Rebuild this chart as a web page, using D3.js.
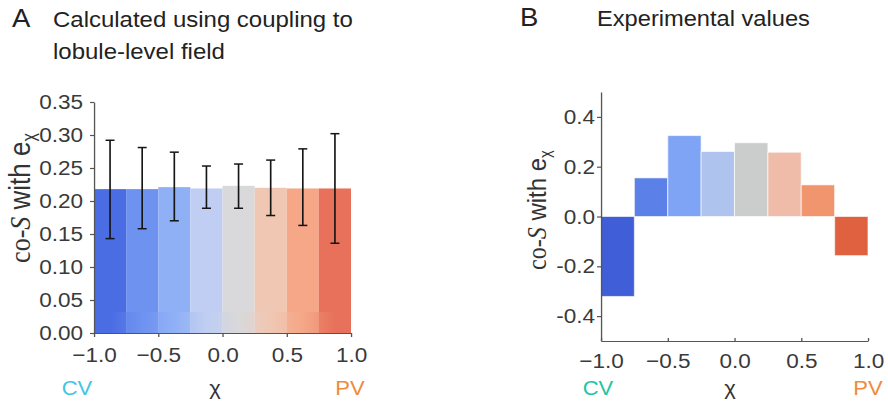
<!DOCTYPE html>
<html>
<head>
<meta charset="utf-8">
<script src="https://cdn.jsdelivr.net/npm/d3@7"></script>
<style>
  html, body { margin: 0; padding: 0; background: #fff; }
  svg { display: block; }
</style>
</head>
<body>
<svg id="fig" width="888" height="403"></svg>
<script>
// ---- data ----
const binEdges = [-1, -0.75, -0.5, -0.25, 0, 0.25, 0.5, 0.75, 1];

// Panel A: calculated co-S with lobule-level field (mean and error range)
const calcValues = [0.218, 0.218, 0.221, 0.219, 0.223, 0.220, 0.219, 0.219];
const calcUpper  = [0.292, 0.281, 0.274, 0.253, 0.256, 0.262, 0.279, 0.302];
const calcLower  = [0.143, 0.158, 0.170, 0.189, 0.189, 0.178, 0.163, 0.136];
const calcColors = ["#4b6de4", "#6e92f0", "#90b0f6", "#bfcef2", "#d9d8da", "#f0c7b3", "#f5a787", "#e7715a"];

// Panel B: experimental values
const expValues = [-0.321, 0.155, 0.325, 0.261, 0.296, 0.258, 0.127, -0.157];
const expColors = ["#3f5ed8", "#5b80e8", "#80a4f5", "#aec3ee", "#cacdcb", "#efbcaa", "#f0956d", "#e0613f"];

const yTicksA = [0, 0.05, 0.10, 0.15, 0.20, 0.25, 0.30, 0.35];
const yTicksB = [-0.4, -0.2, 0.0, 0.2, 0.4];
const xTicks  = [-1, -0.5, 0, 0.5, 1];

// ---- layout ----
// the whole figure is drawn slightly widened horizontally
const SX = 1.1;
const px = v => v / SX;
const SANS = "'Liberation Sans', Arial, sans-serif";
const SERIF = "'Liberation Serif', 'Times New Roman', serif";

const svg = d3.select("#fig");
const root = svg.append("g")
  .attr("transform", `scale(${SX},1)`)
  .attr("font-family", SANS)
  .attr("fill", "#333");

const fmtX = d3.format(".1f");

function styleAxis(g) {
  g.attr("font-family", SANS).attr("font-size", 20.5);
  g.selectAll("path.domain").attr("stroke", "#555").attr("stroke-width", 1.2);
  g.selectAll(".tick line").attr("stroke", "#555").attr("stroke-width", 1.2);
  g.selectAll(".tick text").attr("fill", "#3a3a3a");
}

function yLabel(g, cx, cy, size) {
  const t = g.append("text")
    .attr("transform", `translate(${cx},${cy}) rotate(-90)`)
    .attr("text-anchor", "middle")
    .attr("font-size", size)
    .attr("fill", "#333");
  t.append("tspan").text("co-").attr("font-family", SERIF);
  t.append("tspan").text("S").attr("font-family", SERIF).attr("font-style", "italic");
  t.append("tspan").text(" with e");
  t.append("tspan").text("χ").attr("font-size", size * 0.62).attr("dy", size * 0.18);
}

function bottomLabels(g, xs, y, cvColor) {
  g.append("text").attr("x", xs[0]).attr("y", y).attr("text-anchor", "middle")
    .attr("font-size", 20).attr("fill", cvColor).text("CV");
  g.append("text").attr("x", xs[1]).attr("y", y).attr("text-anchor", "middle")
    .attr("font-size", 20).attr("fill", "#333").text("χ");
  g.append("text").attr("x", xs[2]).attr("y", y).attr("text-anchor", "middle")
    .attr("font-size", 20).attr("fill", "#f08a3c").text("PV");
}

// ================= Panel A =================
{
  const g = root.append("g");
  const x = d3.scaleLinear().domain([-1, 1]).range([px(94), px(351)]);
  const y = d3.scaleLinear().domain([0, 0.35]).range([333, 102]);
  const bins = calcValues.map((v, i) => ({
    x0: binEdges[i], x1: binEdges[i + 1], v, hi: calcUpper[i], lo: calcLower[i], c: calcColors[i]
  }));

  g.append("text").attr("x", px(12)).attr("y", 27).attr("font-size", 25).attr("fill", "#222").text("A");
  g.append("text").attr("x", px(53)).attr("y", 27).attr("font-size", 21.8).attr("fill", "#222")
    .text("Calculated using coupling to");
  g.append("text").attr("x", px(53)).attr("y", 59).attr("font-size", 21.8).attr("fill", "#222")
    .text("lobule-level field");

  g.selectAll("rect.bar").data(bins).join("rect")
    .attr("class", "bar")
    .attr("x", d => x(d.x0))
    .attr("width", d => x(d.x1) - x(d.x0))
    .attr("y", d => y(d.v))
    .attr("height", d => y(0) - y(d.v))
    .attr("fill", d => d.c);

  // continuous colour strip along the base of the bars
  const grad = svg.append("defs").append("linearGradient").attr("id", "stripA")
    .attr("x1", "0%").attr("x2", "100%").attr("y1", "0%").attr("y2", "0%");
  calcColors.forEach((c, i) => {
    grad.append("stop").attr("offset", ((i + 0.5) / calcColors.length * 100) + "%").attr("stop-color", c);
  });
  g.append("rect")
    .attr("x", x(-1)).attr("width", x(1) - x(-1))
    .attr("y", 312).attr("height", y(0) - 312)
    .attr("fill", "url(#stripA)").attr("opacity", 0.55);

  // error bars
  const cap = px(4.5);
  const eb = g.selectAll("g.err").data(bins).join("g").attr("class", "err")
    .attr("stroke", "#151515").attr("stroke-width", 1.5);
  eb.append("line").attr("x1", d => x((d.x0 + d.x1) / 2)).attr("x2", d => x((d.x0 + d.x1) / 2))
    .attr("y1", d => y(d.hi)).attr("y2", d => y(d.lo));
  eb.append("line").attr("x1", d => x((d.x0 + d.x1) / 2) - cap).attr("x2", d => x((d.x0 + d.x1) / 2) + cap)
    .attr("y1", d => y(d.hi)).attr("y2", d => y(d.hi));
  eb.append("line").attr("x1", d => x((d.x0 + d.x1) / 2) - cap).attr("x2", d => x((d.x0 + d.x1) / 2) + cap)
    .attr("y1", d => y(d.lo)).attr("y2", d => y(d.lo));

  const ay = g.append("g").attr("transform", `translate(${x(-1)},0)`)
    .call(d3.axisLeft(y).tickValues(yTicksA).tickFormat(d3.format(".2f")).tickSize(px(4)).tickPadding(px(7)).tickSizeOuter(0));
  styleAxis(ay);
  const ax = g.append("g").attr("transform", `translate(0,${y(0)})`)
    .call(d3.axisBottom(x).tickValues(xTicks).tickFormat(fmtX).tickSize(4).tickPadding(10).tickSizeOuter(0));
  styleAxis(ax);

  yLabel(g, px(30), 198, 26);
  bottomLabels(g, [px(77), px(215), px(350)], 395, "#3fc6e6");
}

// ================= Panel B =================
{
  const g = root.append("g");
  const x = d3.scaleLinear().domain([-1, 1]).range([px(601), px(868)]);
  const y = d3.scaleLinear().domain([-0.5, 0.5]).range([341, 92]);
  const bins = expValues.map((v, i) => ({ x0: binEdges[i], x1: binEdges[i + 1], v, c: expColors[i] }));

  g.append("text").attr("x", px(520)).attr("y", 26).attr("font-size", 25).attr("fill", "#222").text("B");
  g.append("text").attr("x", px(597)).attr("y", 26).attr("font-size", 21.5).attr("fill", "#222")
    .text("Experimental values");

  g.selectAll("rect.bar").data(bins).join("rect")
    .attr("class", "bar")
    .attr("x", d => x(d.x0))
    .attr("width", d => x(d.x1) - x(d.x0))
    .attr("y", d => y(Math.max(0, d.v)))
    .attr("height", d => Math.abs(y(d.v) - y(0)))
    .attr("fill", d => d.c)
    .attr("stroke", "rgba(255,255,255,0.6)")
    .attr("stroke-width", 1);

  const ay = g.append("g").attr("transform", `translate(${x(-1)},0)`)
    .call(d3.axisLeft(y).tickValues(yTicksB).tickFormat(d => d3.format(".1f")(d).replace("−", "-"))
      .tickSize(px(4)).tickPadding(px(2)).tickSizeOuter(0));
  styleAxis(ay);
  const ax = g.append("g").attr("transform", `translate(0,${y(-0.5)})`)
    .call(d3.axisBottom(x).tickValues(xTicks).tickFormat(fmtX).tickSize(-3).tickPadding(12).tickSizeOuter(0));
  styleAxis(ax);

  yLabel(g, px(546), 210, 24);
  bottomLabels(g, [px(598), px(730), px(868)], 395, "#22c4a4");
}
</script>
</body>
</html>
